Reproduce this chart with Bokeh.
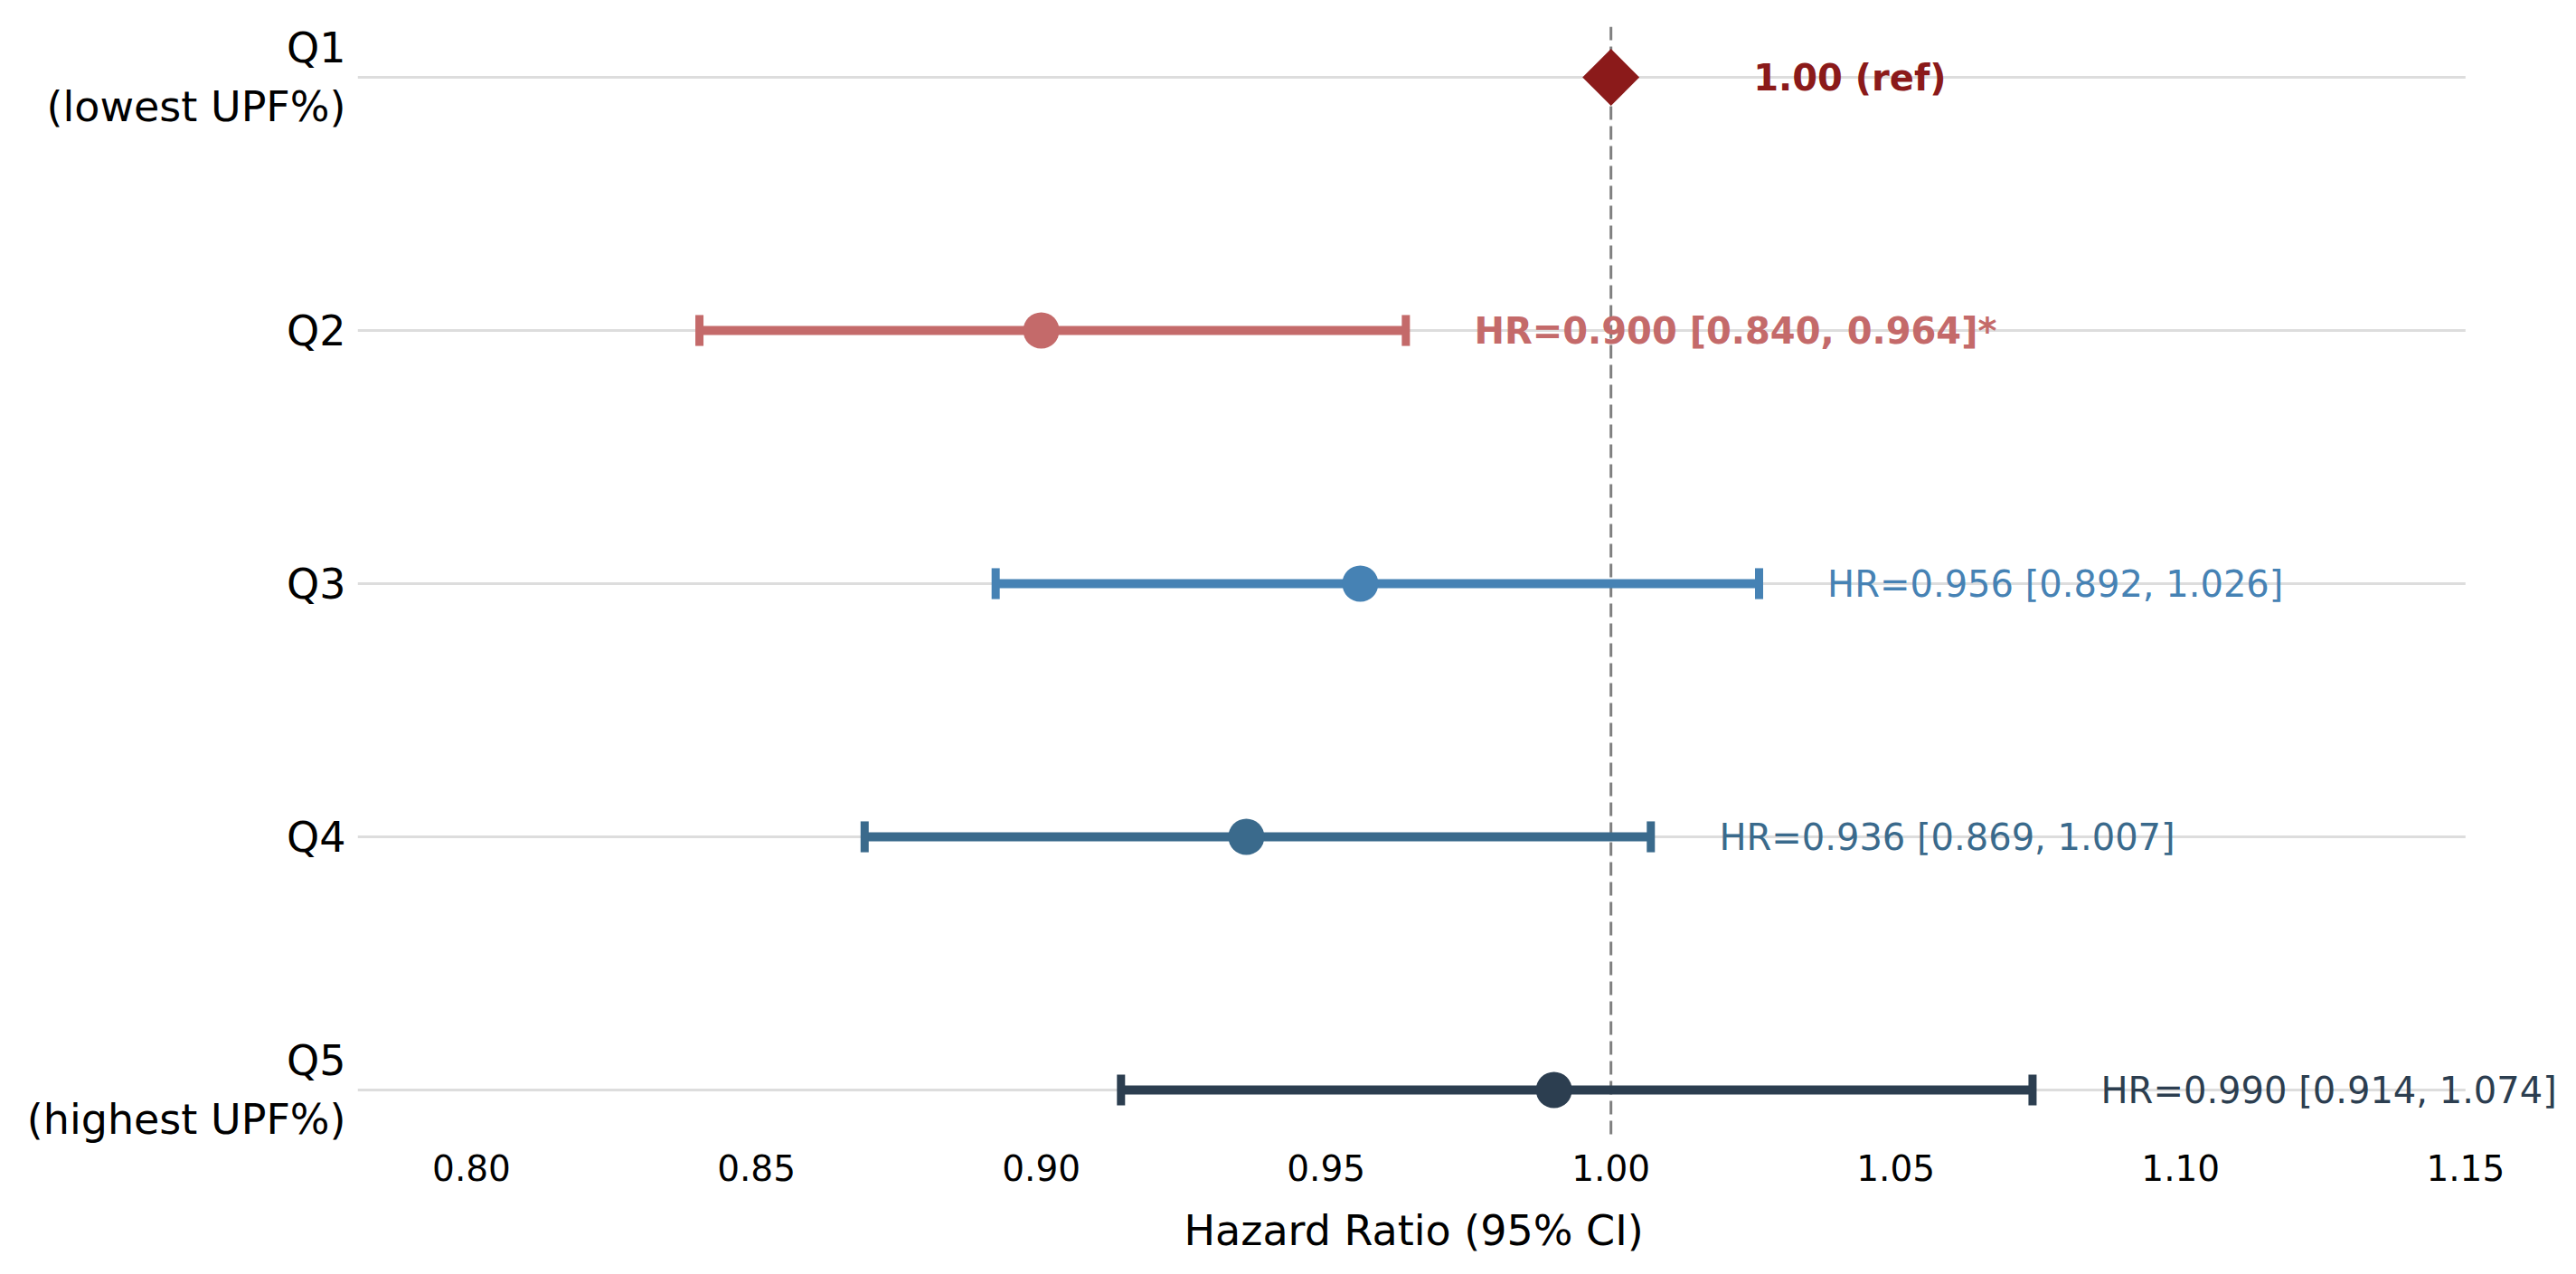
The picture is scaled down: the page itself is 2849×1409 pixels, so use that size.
import math
from bokeh.plotting import figure
from bokeh.models import Range1d, FixedTicker, Span, Title, PrintfTickFormatter
from bokeh.core.properties import value
from bokeh.embed import file_html
from bokeh.resources import INLINE

# ---- data ----
groups = ["Q1\n(lowest UPF%)", "Q2", "Q3", "Q4", "Q5\n(highest UPF%)"]
hr = [1.000, 0.900, 0.956, 0.936, 0.990]
ci_low = [1.000, 0.840, 0.892, 0.869, 0.914]
ci_high = [1.000, 0.964, 1.026, 1.007, 1.074]
labels = ["1.00 (ref)", "HR=0.900 [0.840, 0.964]*", "HR=0.956 [0.892, 1.026]",
          "HR=0.936 [0.869, 1.007]", "HR=0.990 [0.914, 1.074]"]
significant = [True, True, False, False, False]
xticks = [0.80, 0.85, 0.90, 0.95, 1.00, 1.05, 1.10, 1.15]
x_label = "Hazard Ratio (95% CI)"

colors = ["#8B1A1A", "#C46A6A", "#4682B4", "#3A6A8C", "#2C3E50"]
FONT = "DejaVu Sans"

rows = list(range(len(groups)))
x_min, x_max = 0.78, 1.15

p = figure(width=2833, height=1393,
           x_range=Range1d(x_min, 1.1663), y_range=Range1d(4.2, -0.2),
           output_backend="svg", toolbar_location=None,
           min_border_left=395, min_border_right=4,
           min_border_top=29, min_border_bottom=132)
p.outline_line_color = None
p.xgrid.visible = False
p.ygrid.visible = False
p.background_fill_color = "white"
p.border_fill_color = "white"

# x axis
p.xaxis.ticker = FixedTicker(ticks=xticks)
p.xaxis.formatter = PrintfTickFormatter(format="%.2f")
p.xaxis.axis_line_color = None
p.xaxis.major_tick_line_color = None
p.xaxis.minor_tick_line_color = None
p.xaxis.major_tick_out = 0
p.xaxis.major_tick_in = 0
p.xaxis.major_label_standoff = 15
p.xaxis.major_label_text_font = FONT
p.xaxis.major_label_text_font_size = "39px"
p.xaxis.major_label_text_color = "black"

# y axis
p.yaxis.ticker = FixedTicker(ticks=rows)
p.yaxis.major_label_overrides = {r: g for r, g in zip(rows, groups)}
p.yaxis.axis_line_color = None
p.yaxis.major_tick_line_color = None
p.yaxis.minor_tick_line_color = None
p.yaxis.major_tick_out = 0
p.yaxis.major_tick_in = 0
p.yaxis.major_label_standoff = 13
p.yaxis.major_label_text_font = FONT
p.yaxis.major_label_text_font_size = "46px"
p.yaxis.major_label_text_color = "black"

# row grid lines
p.segment(x0=[x_min] * len(rows), x1=[x_max] * len(rows), y0=rows, y1=rows,
          line_color="#dddddd", line_width=3, level="underlay")

# reference line
p.add_layout(Span(location=1.0, dimension="height", line_color="#808080",
                  line_width=3, line_dash="15 7", level="underlay"))

# CI bars
r_idx = rows[1:]
p.segment(x0=ci_low[1:], x1=ci_high[1:], y0=r_idx, y1=r_idx,
          line_color=colors[1:], line_width=10, line_cap="butt")
cap = 0.061
for lohi in (ci_low, ci_high):
    p.segment(x0=lohi[1:], x1=lohi[1:],
              y0=[r - cap for r in r_idx], y1=[r + cap for r in r_idx],
              line_color=colors[1:], line_width=9, line_cap="butt")

# point estimates
p.scatter(x=hr[1:], y=r_idx, size=40, fill_color=colors[1:],
          line_color=colors[1:], line_width=0)
p.scatter(x=[hr[0]], y=[rows[0]], marker="square", angle=math.pi / 4, size=44.5,
          fill_color=colors[0], line_color=colors[0], line_width=0)

# annotation text
text_x = [ci_high[0] + 0.025] + [h + 0.012 for h in ci_high[1:]]
styles = ["bold" if s else "normal" for s in significant]
p.text(x=text_x, y=rows, text=labels, text_color=colors,
       text_font=value(FONT), text_font_size="40px", text_font_style=styles,
       text_align="left", text_baseline="middle")

# spacer, then axis title centred under the 0.78-1.15 data area
p.add_layout(Title(text=" ", text_font_size="6px"), "below")
p.add_layout(Title(text=x_label, align="left", offset=914,
                   text_font=FONT, text_font_size="46px",
                   text_font_style="normal", text_color="black"), "below")

open("out.html", "w").write(file_html(p, INLINE))
